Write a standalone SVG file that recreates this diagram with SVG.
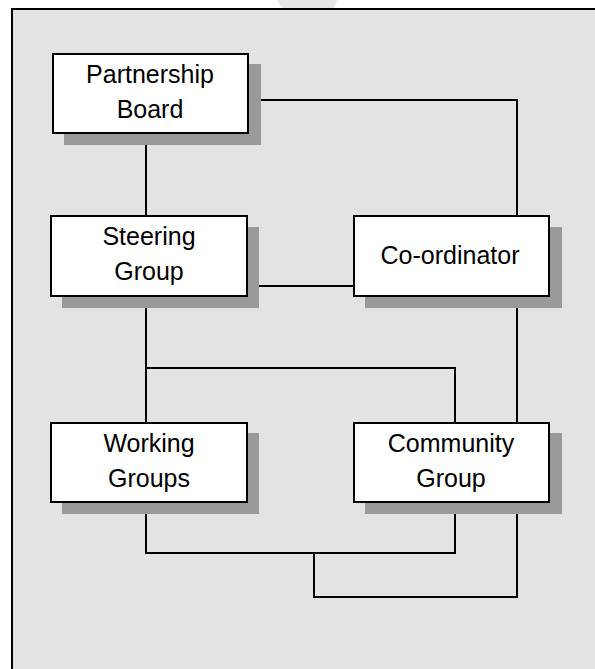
<svg xmlns="http://www.w3.org/2000/svg" width="595" height="669" viewBox="0 0 595 669">
  <style>
    .box { fill: #ffffff; stroke: #000000; stroke-width: 2; }
    .shadow { fill: #999999; }
    .link { fill: none; stroke: #000000; stroke-width: 2; stroke-linejoin: miter; }
    .label { font-family: "Liberation Sans", Arial, sans-serif; font-size: 25px; fill: #000000; text-anchor: middle; }
  </style>

  <rect x="0" y="0" width="595" height="669" fill="#ffffff"/>
  <!-- faint mark above the panel -->
  <path d="M277,0 L337,0 Q336,5 333,8 L284,8 Q279,5 277,0 Z" fill="#e6e6e6"/>
  <!-- panel -->
  <rect x="12" y="9" width="600" height="680" fill="#e3e3e3" stroke="#000000" stroke-width="2"/>

  <g id="connectors">
    <line class="link" x1="146" y1="133" x2="146" y2="216"/>
    <polyline class="link" points="248,100 517,100 517,216"/>
    <line class="link" x1="247" y1="286" x2="354" y2="286"/>
    <line class="link" x1="146" y1="296" x2="146" y2="423"/>
    <polyline class="link" points="146,368 455,368 455,423"/>
    <line class="link" x1="517" y1="296" x2="517" y2="423"/>
    <polyline class="link" points="146,502 146,553 455,553 455,502"/>
    <polyline class="link" points="314,553 314,597 517,597 517,502"/>
  </g>

  <g id="partnership-board">
    <rect class="shadow" x="64" y="64" width="197" height="81"/>
    <rect class="box" x="53" y="54" width="195" height="79"/>
    <text class="label" x="150" y="83">Partnership</text>
    <text class="label" x="150" y="118">Board</text>
  </g>

  <g id="steering-group">
    <rect class="shadow" x="62" y="227" width="197" height="81"/>
    <rect class="box" x="51" y="216" width="196" height="80"/>
    <text class="label" x="149" y="245">Steering</text>
    <text class="label" x="149" y="280">Group</text>
  </g>

  <g id="co-ordinator">
    <rect class="shadow" x="365" y="227" width="197" height="81"/>
    <rect class="box" x="354" y="216" width="195" height="80"/>
    <text class="label" x="450" y="264">Co-ordinator</text>
  </g>

  <g id="working-groups">
    <rect class="shadow" x="62" y="433" width="197" height="81"/>
    <rect class="box" x="51" y="423" width="196" height="79"/>
    <text class="label" x="149" y="452">Working</text>
    <text class="label" x="149" y="487">Groups</text>
  </g>

  <g id="community-group">
    <rect class="shadow" x="365" y="433" width="197" height="81"/>
    <rect class="box" x="354" y="423" width="195" height="79"/>
    <text class="label" x="451" y="452">Community</text>
    <text class="label" x="451" y="487">Group</text>
  </g>
</svg>
